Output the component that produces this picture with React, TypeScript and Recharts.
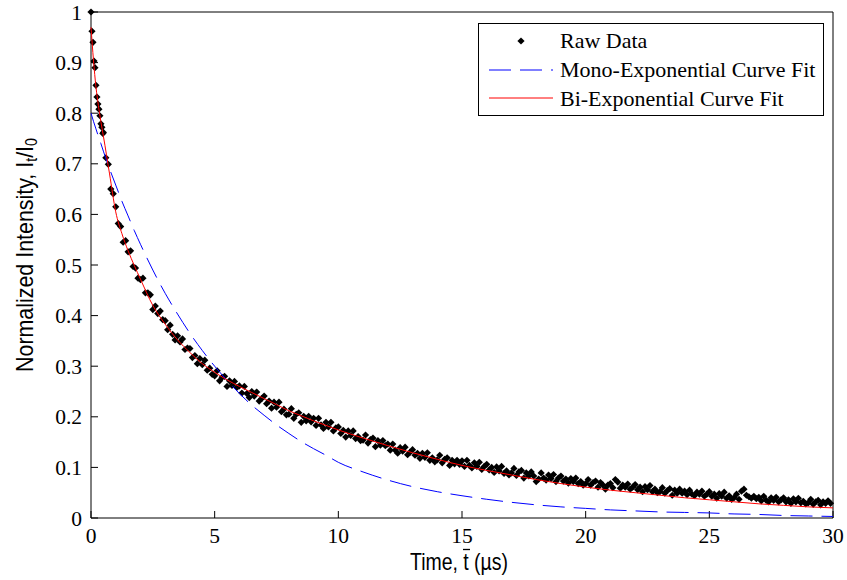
import { ComposedChart, Scatter, Line, XAxis, YAxis, Legend } from 'recharts';

// sampling grid of the raw decay trace (µs)
const earlyStart = 0;
const earlyStep = 0.04;
const mainStart = 0.5;
const mainStep = 0.1;

// raw data, t = 0 .. 0.48 (step 0.04)
const rawEarly = [1.0, 0.962, 0.94, 0.903, 0.89, 0.855, 0.832, 0.818, 0.808, 0.795, 0.779, 0.772, 0.76];

// raw data, t = 0.5 .. 29.9 (step 0.1)
const rawMain = [
  0.762, 0.712, 0.699, 0.650, 0.641,
  0.615, 0.582, 0.576, 0.545, 0.548, 0.526, 0.528, 0.497, 0.494, 0.474,
  0.471, 0.474, 0.445, 0.445, 0.441, 0.412, 0.419, 0.404, 0.409, 0.392,
  0.390, 0.372, 0.381, 0.363, 0.352, 0.360, 0.348, 0.354, 0.333, 0.336,
  0.335, 0.317, 0.321, 0.305, 0.315, 0.303, 0.312, 0.292, 0.296, 0.284,
  0.281, 0.291, 0.271, 0.278, 0.280, 0.260, 0.271, 0.262, 0.270, 0.258,
  0.261, 0.247, 0.260, 0.246, 0.238, 0.250, 0.241, 0.249, 0.231, 0.236,
  0.241, 0.226, 0.231, 0.217, 0.229, 0.219, 0.229, 0.210, 0.215, 0.204,
  0.205, 0.216, 0.197, 0.205, 0.208, 0.189, 0.201, 0.192, 0.201, 0.190,
  0.197, 0.183, 0.197, 0.184, 0.177, 0.189, 0.180, 0.189, 0.172, 0.178,
  0.180, 0.167, 0.173, 0.160, 0.172, 0.163, 0.172, 0.157, 0.161, 0.153,
  0.154, 0.164, 0.148, 0.155, 0.158, 0.141, 0.153, 0.144, 0.153, 0.143,
  0.146, 0.134, 0.146, 0.134, 0.128, 0.139, 0.132, 0.140, 0.125, 0.130,
  0.135, 0.124, 0.128, 0.118, 0.128, 0.120, 0.129, 0.114, 0.119, 0.111,
  0.115, 0.124, 0.109, 0.116, 0.119, 0.104, 0.114, 0.107, 0.114, 0.106,
  0.113, 0.102, 0.114, 0.104, 0.099, 0.109, 0.102, 0.110, 0.096, 0.102,
  0.106, 0.095, 0.100, 0.090, 0.101, 0.093, 0.102, 0.088, 0.093, 0.085,
  0.089, 0.098, 0.084, 0.091, 0.094, 0.079, 0.089, 0.083, 0.091, 0.083,
  0.072, 0.077, 0.089, 0.079, 0.075, 0.085, 0.078, 0.086, 0.072, 0.079,
  0.083, 0.073, 0.077, 0.069, 0.078, 0.072, 0.079, 0.068, 0.072, 0.065,
  0.068, 0.076, 0.065, 0.070, 0.073, 0.061, 0.070, 0.065, 0.057, 0.065,
  0.068, 0.060, 0.076, 0.071, 0.059, 0.065, 0.061, 0.067, 0.057, 0.061,
  0.066, 0.056, 0.061, 0.052, 0.062, 0.056, 0.064, 0.052, 0.057, 0.050,
  0.052, 0.060, 0.049, 0.054, 0.058, 0.045, 0.055, 0.049, 0.057, 0.049,
  0.053, 0.046, 0.055, 0.047, 0.044, 0.051, 0.047, 0.053, 0.043, 0.047,
  0.052, 0.043, 0.047, 0.039, 0.048, 0.043, 0.051, 0.039, 0.044, 0.037,
  0.040, 0.047, 0.037, 0.053, 0.057, 0.045, 0.042, 0.039, 0.043, 0.038,
  0.041, 0.034, 0.043, 0.035, 0.032, 0.040, 0.035, 0.041, 0.032, 0.036,
  0.040, 0.032, 0.036, 0.029, 0.038, 0.032, 0.039, 0.030, 0.033, 0.028,
  0.030, 0.037, 0.027, 0.032, 0.035, 0.026, 0.032, 0.029, 0.034, 0.029,
];

// fit curves
const fitTime = [0, 0.1, 0.2, 0.3, 0.4, 0.5, 0.75, 1, 1.25, 1.5, 1.75, 2, 2.5, 3, 3.5, 4, 4.5, 5, 5.5, 6, 6.5, 7, 7.5, 8, 8.5, 9, 9.5, 10, 11, 12, 13, 14, 15, 16, 17, 18, 19, 20, 21, 22, 23, 24, 25, 26, 27, 28, 29, 30];
const monoFit = [0.8, 0.784, 0.769, 0.754, 0.74, 0.725, 0.69, 0.658, 0.626, 0.597, 0.568, 0.541, 0.49, 0.444, 0.403, 0.365, 0.331, 0.3, 0.272, 0.246, 0.223, 0.203, 0.184, 0.167, 0.151, 0.137, 0.124, 0.11, 0.091, 0.075, 0.062, 0.052, 0.044, 0.037, 0.031, 0.026, 0.022, 0.019, 0.016, 0.014, 0.012, 0.011, 0.01, 0.008, 0.007, 0.005, 0.004, 0.003];
const biFit = [0.97, 0.905, 0.852, 0.815, 0.783, 0.755, 0.68, 0.605, 0.562, 0.528, 0.499, 0.472, 0.42, 0.383, 0.352, 0.327, 0.305, 0.288, 0.273, 0.26, 0.248, 0.236, 0.224, 0.212, 0.202, 0.192, 0.183, 0.174, 0.158, 0.143, 0.129, 0.116, 0.104, 0.094, 0.085, 0.076, 0.068, 0.061, 0.055, 0.05, 0.045, 0.04, 0.036, 0.032, 0.028, 0.025, 0.022, 0.02];

const xTicks = [0, 5, 10, 15, 20, 25, 30];
const yTicks = [0, 0.1, 0.2, 0.3, 0.4, 0.5, 0.6, 0.7, 0.8, 0.9, 1];

const rawData = [
  ...rawEarly.map((v, i) => ({ t: earlyStart + i * earlyStep, v })),
  ...rawMain.map((v, i) => ({ t: mainStart + i * mainStep, v })),
];
const monoData = fitTime.map((t, i) => ({ t, v: monoFit[i] }));
const biData = fitTime.map((t, i) => ({ t, v: biFit[i] }));

const serif = 'Liberation Serif, Times New Roman, serif';
const sans = 'Liberation Sans, Arial, sans-serif';
const tickStyle = { fill: '#000', fontFamily: serif, fontSize: 21.5 };

const Diamond = (props: any) => {
  const { cx, cy } = props;
  const r = 3.6;
  return <polygon points={`${cx},${cy - r} ${cx + r},${cy} ${cx},${cy + r} ${cx - r},${cy}`} fill="#000" />;
};

const XLabel = () => (
  <g>
    <text x={410} y={570} fontFamily={sans} fontSize={24} fill="#000" textLength={98} lengthAdjust="spacingAndGlyphs">
      Time, t (µs)
    </text>
    {/* overline over the t */}
    <line x1={463} y1={549.5} x2={470} y2={549.5} stroke="#000" strokeWidth={1.3} />
  </g>
);

const YLabel = () => (
  <text
    x={33}
    y={255}
    transform="rotate(-90, 33, 255)"
    textAnchor="middle"
    fontFamily={sans}
    fontSize={24}
    fill="#000"
    textLength={234}
    lengthAdjust="spacingAndGlyphs"
  >
    Normalized Intensity, I<tspan dy={4} fontSize={16}>t</tspan>
    <tspan dy={-4}>/I</tspan>
    <tspan dy={4} fontSize={16}>0</tspan>
  </text>
);

const LegendBox = () => (
  <svg width={347} height={94} style={{ display: 'block' }}>
    <rect x={0.5} y={0.5} width={345} height={92} fill="#fff" stroke="#000" strokeWidth={1} />
    <polygon points="43,14.4 46.6,18 43,21.6 39.4,18" fill="#000" />
    <text x={82} y={25} fontFamily={serif} fontSize={22} fill="#000">Raw Data</text>
    <line x1={11} y1={47} x2={75} y2={47} stroke="#0000ff" strokeWidth={1} strokeDasharray="22 9" />
    <text x={82} y={54} fontFamily={serif} fontSize={22} fill="#000">Mono-Exponential Curve Fit</text>
    <line x1={11} y1={75} x2={75} y2={75} stroke="#ff0000" strokeWidth={1} />
    <text x={82} y={83} fontFamily={serif} fontSize={22} fill="#000">Bi-Exponential Curve Fit</text>
  </svg>
);

export default function App() {
  return (
    <div style={{ position: 'absolute', left: 0, top: 0, width: 847, height: 580, background: '#fff' }}>
      <ComposedChart width={847} height={580} margin={{ top: 11, right: 13, bottom: 61, left: 90 }}>
        <XAxis
          dataKey="t"
          type="number"
          domain={[0, 30]}
          ticks={xTicks}
          interval={0}
          height={1}
          tickSize={-7}
          tickMargin={17}
          tick={tickStyle}
          stroke="#000"
          label={<XLabel />}
        />
        <XAxis
          xAxisId="top"
          orientation="top"
          type="number"
          domain={[0, 30]}
          ticks={xTicks}
          interval={0}
          height={1}
          tickSize={-7}
          tick={false}
          stroke="#000"
        />
        <YAxis
          type="number"
          domain={[0, 1]}
          ticks={yTicks}
          interval={0}
          width={1}
          tickSize={-7}
          tickMargin={16}
          tick={tickStyle}
          stroke="#000"
          label={<YLabel />}
        />
        <YAxis
          yAxisId="right"
          orientation="right"
          type="number"
          domain={[0, 1]}
          ticks={yTicks}
          interval={0}
          width={1}
          tickSize={-7}
          tick={false}
          stroke="#000"
        />
        <Scatter data={rawData} dataKey="v" shape={<Diamond />} isAnimationActive={false} />
        <Line data={monoData} dataKey="v" type="monotone" stroke="#0000ff" strokeWidth={1} strokeDasharray="22 9" dot={false} activeDot={false} isAnimationActive={false} zIndex={700} />
        <Line data={biData} dataKey="v" type="monotone" stroke="#ff0000" strokeWidth={1} dot={false} activeDot={false} isAnimationActive={false} zIndex={710} />
        <Legend
          layout="horizontal"
          align="center"
          verticalAlign="middle"
          width={347}
          height={94}
          wrapperStyle={{ left: 478, top: 23, width: 347, height: 94 }}
          content={<LegendBox />}
        />
      </ComposedChart>
    </div>
  );
}
